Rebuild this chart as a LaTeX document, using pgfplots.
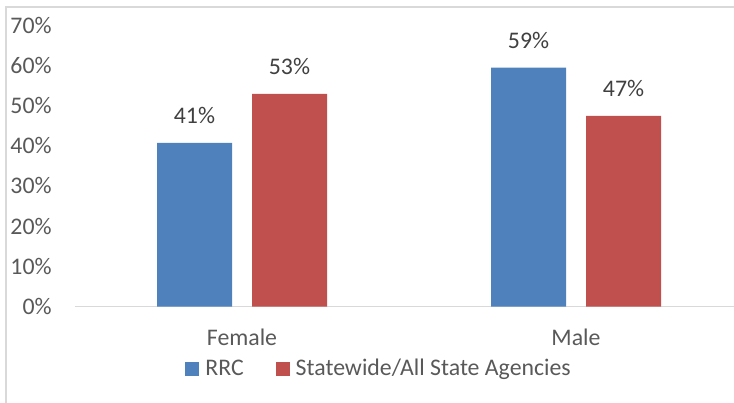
\documentclass[border=0pt]{standalone}
\usepackage{pgfplots}
\pgfplotsset{compat=1.18}
\usepackage{fontspec}
\setmainfont{Carlito}
\definecolor{barblue}{HTML}{4F81BD}
\definecolor{barred}{HTML}{C0504D}
\definecolor{tickgray}{HTML}{595959}
\definecolor{labgray}{HTML}{404040}
\definecolor{linegray}{HTML}{D9D9D9}
\begin{document}
\begin{tikzpicture}[font=\fontsize{11.9}{14}\selectfont]
\path[use as bounding box, clip] (0,0) rectangle (367pt,201pt);
\draw[linegray, line width=0.75pt] (3pt,-1pt) -- (3pt,197.5pt) -- (368pt,197.5pt);
\begin{axis}[
 at={(37.5pt,47.75pt)}, anchor=south west,
 scale only axis, width=334pt, height=140.75pt,
 xmin=-0.5, xmax=1.5, ymin=0, ymax=70,
 ybar, bar width=37.5pt,
 xtick={0,1}, xticklabels={Female,Male},
 ytick={0,10,...,70},
 yticklabel={\pgfmathprintnumber{\tick}\%},
 /pgf/number format/assume math mode=true,
 axis x line*=bottom, axis y line*=left,
 x axis line style={linegray, line width=0.75pt},
 y axis line style={draw=none},
 major tick length=0pt, tick style={draw=none},
 ticklabel style={text=tickgray, font=\fontsize{11.9}{14}\selectfont},
 yticklabel style={anchor=east, inner sep=0pt, xshift=-11.5pt},
 xticklabel style={anchor=base, inner sep=0pt, yshift=-19.5pt},
 nodes near coords={\pgfmathprintnumber[fixed,precision=0]{\pgfplotspointmeta}\%},
 nodes near coords style={anchor=base, inner sep=0pt, yshift=9.5pt, text=labgray, font=\fontsize{11.9}{14}\selectfont},
 legend style={at={(0.1647,-0.222)}, anchor=west, draw=none, fill=none, inner sep=0pt,
   font=\fontsize{11.9}{14}\selectfont, text=tickgray, nodes={inner sep=0pt},
   /tikz/every even column/.append style={column sep=16pt},
   /tikz/every odd column/.append style={column sep=3pt}},
 legend columns=2,
 legend image code/.code={\fill[#1] (0pt,-3.5pt) rectangle (7pt,3.5pt);},
]
\addplot[fill=barblue, draw=none, bar shift=-23.75pt] coordinates {(0,40.7) (1,59.4)};
\addplot[fill=barred, draw=none, bar shift=23.75pt] coordinates {(0,52.9) (1,47.4)};
\legend{RRC, Statewide/All State Agencies}
\end{axis}
\end{tikzpicture}
\end{document}
